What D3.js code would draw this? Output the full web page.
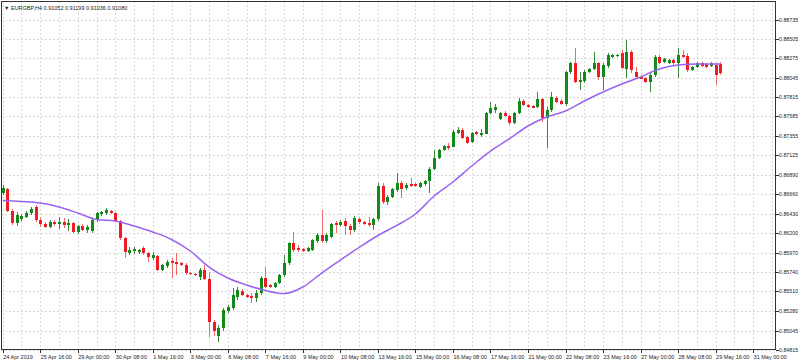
<!DOCTYPE html>
<html>
<head>
<meta charset="utf-8">
<script src="https://cdn.jsdelivr.net/npm/d3@7"></script>
<style>
  body { margin: 0; background: #fff; }
  svg { display: block; }
  text { font-family: "Liberation Sans", Arial, sans-serif; font-size: 5.5px; fill: #222; }
  .price text { font-size: 5.3px; }
</style>
</head>
<body>
<div id="chart"></div>
<script>
// EURGBP H4 candles, first bar 24 Apr 2019 08:00
const barOpen = [
  0.86677,0.86724,0.86464,0.86321,0.86369,0.86392,0.86440,0.86511,0.86357,0.86309,
  0.86274,0.86333,0.86309,0.86333,0.86298,0.86321,0.86215,0.86286,0.86238,0.86226,
  0.86357,0.86428,0.86440,0.86464,0.86440,0.86345,0.86144,0.85965,0.85989,0.85977,
  0.86025,0.85965,0.85906,0.85930,0.85764,0.85811,0.85871,0.85859,0.85847,0.85823,
  0.85728,0.85716,0.85681,0.85764,0.85657,0.85147,0.84981,0.85076,0.85278,0.85313,
  0.85444,0.85515,0.85467,0.85455,0.85432,0.85491,0.85669,0.85586,0.85562,0.85610,
  0.85705,0.85847,0.86084,0.86025,0.86013,0.85989,0.86001,0.86108,0.86179,0.86108,
  0.86155,0.86321,0.86298,0.86345,0.86286,0.86238,0.86369,0.86333,0.86321,0.86298,
  0.86369,0.86760,0.86570,0.86630,0.86713,0.86796,0.86736,0.86784,0.86784,0.86748,
  0.86784,0.86819,0.86962,0.87092,0.87187,0.87235,0.87223,0.87389,0.87424,0.87341,
  0.87282,0.87401,0.87365,0.87377,0.87626,0.87661,0.87555,0.87626,0.87590,0.87507,
  0.87626,0.87768,0.87721,0.87709,0.87697,0.87792,0.87567,0.87661,0.87804,0.87768,
  0.87733,0.88112,0.88219,0.87993,0.88005,0.88112,0.88148,0.88219,0.88053,0.88183,
  0.88290,0.88302,0.88337,0.88148,0.88349,0.88112,0.88053,0.88041,0.87993,0.88077,
  0.88290,0.88231,0.88219,0.88254,0.88219,0.88314,0.88302,0.88136,0.88171,0.88219,
  0.88207,0.88183,0.88195,0.88207
];
const barHigh = [
  0.86772,0.86736,0.86487,0.86452,0.86428,0.86464,0.86511,0.86535,0.86392,0.86333,
  0.86357,0.86357,0.86392,0.86381,0.86369,0.86333,0.86298,0.86309,0.86298,0.86381,
  0.86452,0.86464,0.86499,0.86475,0.86452,0.86357,0.86155,0.86037,0.86037,0.86013,
  0.86049,0.85977,0.85977,0.85942,0.85835,0.85882,0.85906,0.85965,0.85859,0.85847,
  0.85740,0.85728,0.85788,0.85823,0.85740,0.85171,0.85112,0.85313,0.85349,0.85550,
  0.85562,0.85538,0.85479,0.85491,0.85527,0.85693,0.85799,0.85598,0.85621,0.85716,
  0.85942,0.86096,0.86215,0.86060,0.86025,0.86037,0.86132,0.86203,0.86475,0.86203,
  0.86321,0.86345,0.86357,0.86381,0.86309,0.86404,0.86392,0.86345,0.86392,0.86381,
  0.86796,0.86796,0.86653,0.86736,0.86914,0.86819,0.86796,0.86855,0.86796,0.86808,
  0.86831,0.86985,0.87187,0.87199,0.87246,0.87270,0.87424,0.87460,0.87448,0.87353,
  0.87401,0.87412,0.87436,0.87638,0.87756,0.87733,0.87638,0.87650,0.87602,0.87638,
  0.87804,0.87792,0.87733,0.87721,0.87875,0.87804,0.87697,0.87875,0.87827,0.87792,
  0.88124,0.88231,0.88397,0.88112,0.88136,0.88160,0.88349,0.88231,0.88219,0.88337,
  0.88326,0.88326,0.88373,0.88492,0.88373,0.88171,0.88065,0.88053,0.88100,0.88314,
  0.88314,0.88278,0.88266,0.88278,0.88397,0.88373,0.88337,0.88183,0.88231,0.88231,
  0.88219,0.88231,0.88219,0.88231
];
const barLow = [
  0.86653,0.86452,0.86298,0.86286,0.86345,0.86381,0.86416,0.86333,0.86274,0.86262,
  0.86262,0.86286,0.86250,0.86262,0.86226,0.86203,0.86191,0.86226,0.86203,0.86203,
  0.86333,0.86404,0.86416,0.86428,0.86333,0.86120,0.85906,0.85942,0.85954,0.85954,
  0.85942,0.85859,0.85882,0.85752,0.85752,0.85788,0.85669,0.85705,0.85811,0.85705,
  0.85705,0.85693,0.85645,0.85645,0.84969,0.84981,0.84910,0.85040,0.85254,0.85289,
  0.85408,0.85455,0.85432,0.85373,0.85384,0.85467,0.85550,0.85550,0.85550,0.85598,
  0.85681,0.85823,0.85977,0.85977,0.85977,0.85977,0.85989,0.86084,0.86084,0.86084,
  0.86144,0.86203,0.86286,0.86179,0.86179,0.86215,0.86309,0.86298,0.86274,0.86238,
  0.86345,0.86547,0.86535,0.86618,0.86689,0.86618,0.86713,0.86748,0.86748,0.86736,
  0.86760,0.86677,0.86950,0.87080,0.87175,0.87187,0.87223,0.87377,0.87318,0.87258,
  0.87270,0.87365,0.87341,0.87377,0.87614,0.87626,0.87543,0.87578,0.87484,0.87495,
  0.87614,0.87709,0.87685,0.87685,0.87685,0.87519,0.87211,0.87638,0.87744,0.87721,
  0.87709,0.88088,0.87982,0.87899,0.87982,0.88100,0.88136,0.88017,0.87899,0.88160,
  0.88278,0.88290,0.88148,0.88041,0.88100,0.88041,0.88029,0.87982,0.87875,0.88053,
  0.88207,0.88219,0.88207,0.88195,0.88041,0.88278,0.88112,0.88124,0.88160,0.88171,
  0.88160,0.88171,0.87958,0.88077
];
const barClose = [
  0.86736,0.86464,0.86321,0.86416,0.86404,0.86440,0.86487,0.86357,0.86309,0.86274,
  0.86333,0.86309,0.86333,0.86298,0.86321,0.86215,0.86286,0.86238,0.86274,0.86357,
  0.86440,0.86452,0.86475,0.86440,0.86345,0.86144,0.85977,0.86001,0.86013,0.86001,
  0.85965,0.85918,0.85942,0.85764,0.85823,0.85859,0.85847,0.85835,0.85823,0.85728,
  0.85716,0.85705,0.85764,0.85657,0.85147,0.85040,0.85076,0.85289,0.85325,0.85467,
  0.85527,0.85467,0.85444,0.85432,0.85491,0.85669,0.85562,0.85562,0.85610,0.85705,
  0.85847,0.86084,0.86001,0.86001,0.85989,0.86025,0.86120,0.86179,0.86108,0.86179,
  0.86309,0.86298,0.86333,0.86286,0.86238,0.86381,0.86333,0.86309,0.86298,0.86369,
  0.86760,0.86570,0.86630,0.86724,0.86796,0.86724,0.86772,0.86760,0.86760,0.86796,
  0.86819,0.86962,0.87092,0.87187,0.87235,0.87211,0.87401,0.87424,0.87329,0.87270,
  0.87389,0.87377,0.87389,0.87626,0.87685,0.87697,0.87626,0.87590,0.87507,0.87626,
  0.87768,0.87721,0.87697,0.87691,0.87792,0.87567,0.87661,0.87816,0.87756,0.87733,
  0.88112,0.88219,0.87993,0.88017,0.88112,0.88148,0.88219,0.88053,0.88195,0.88314,
  0.88314,0.88314,0.88160,0.88349,0.88136,0.88053,0.88035,0.87993,0.88077,0.88290,
  0.88219,0.88266,0.88254,0.88219,0.88314,0.88290,0.88136,0.88171,0.88219,0.88183,
  0.88171,0.88219,0.88077,0.88100
];

// moving average, read at every 4th bar
const maBar = [0,4,8,12,16,20,24,28,32,36,40,44,48,52,56,60,64,68,72,76,80,84,88,92,96,100,104,108,112,116,120,124,128,132,136,140,144,148,152,153];
const maValue = [
  0.86588,0.86576,0.86558,0.86511,0.86440,0.86363,0.86345,0.86286,0.86215,0.86126,
  0.85989,0.85799,0.85669,0.85586,0.85521,0.85485,0.85562,0.85728,0.85882,0.86031,
  0.86173,0.86292,0.86428,0.86641,0.86808,0.86997,0.87175,0.87318,0.87472,0.87578,
  0.87650,0.87768,0.87875,0.87970,0.88053,0.88148,0.88195,0.88207,0.88207,0.88207
];

const priceTicks = [0.88735,0.88505,0.88275,0.88045,0.87815,0.87585,0.87355,0.87125,0.86890,
  0.86660,0.86430,0.86200,0.85970,0.85740,0.85510,0.85280,0.85045,0.84815];
const timeTicks = ["24 Apr 2019","25 Apr 16:00","29 Apr 00:00","30 Apr 08:00","1 May 16:00",
  "3 May 00:00","6 May 08:00","7 May 16:00","9 May 00:00","10 May 08:00","13 May 16:00",
  "15 May 00:00","16 May 08:00","17 May 16:00","21 May 00:00","22 May 08:00","23 May 16:00",
  "27 May 00:00","28 May 08:00","29 May 16:00","31 May 00:00"];
const title = "\u25BC EURGBP,H4  0.91052 0.91199 0.91036 0.91080";

const W = 798, H = 363;
const plot = { left: 1, top: 1, right: 775.5, bottom: 349.5 };

// H4 bar times (weekends skipped), extended past the last candle for the axis
const barTimes = [];
{
  let t = Date.UTC(2019, 3, 24, 8);
  while (barTimes.length < 166) {
    const d = new Date(t).getUTCDay();
    if (d !== 0 && d !== 6) barTimes.push(new Date(t));
    t += 4 * 3600 * 1000;
  }
}
const fmt = d3.utcFormat("%-d %b %H:%M");

const x = d3.scaleLinear().domain([0, 160]).range([2.7, 753.1]);
const y = d3.scaleLinear().domain([0.84815, 0.88735]).range([350, 19.5]);

const svg = d3.select("#chart").append("svg")
  .attr("width", W).attr("height", H);

svg.append("rect").attr("width", W).attr("height", H).attr("fill", "#fff");

// grid
const grid = svg.append("g")
  .attr("stroke", "#d9d9d9")
  .attr("stroke-dasharray", "2,2")
  .attr("shape-rendering", "crispEdges");

grid.selectAll(".vg")
  .data(d3.range(0, 165, 4).filter(i => x(i) < plot.right - 1))
  .join("line")
  .attr("x1", i => Math.round(x(i)) + 0.5).attr("x2", i => Math.round(x(i)) + 0.5)
  .attr("y1", plot.top).attr("y2", plot.bottom);

grid.selectAll(".hg")
  .data(priceTicks)
  .join("line")
  .attr("x1", plot.left).attr("x2", plot.right)
  .attr("y1", d => Math.round(y(d)) + 0.5).attr("y2", d => Math.round(y(d)) + 0.5);

// candles
const candles = barOpen.map((o, i) => ({
  i, o, h: barHigh[i], l: barLow[i], c: barClose[i]
}));

const cg = svg.append("g").attr("shape-rendering", "crispEdges");

const candle = cg.selectAll(".candle")
  .data(candles)
  .join("g")
  .attr("class", "candle");

candle.append("line")
  .attr("x1", d => Math.round(x(d.i)) + 0.5)
  .attr("x2", d => Math.round(x(d.i)) + 0.5)
  .attr("y1", d => y(d.h))
  .attr("y2", d => y(d.l))
  .attr("stroke", d => d.c >= d.o ? "#3a8a3a" : "#f06a6a");

candle.append("rect")
  .attr("x", d => Math.round(x(d.i)) - 1)
  .attr("width", 3)
  .attr("y", d => y(Math.max(d.o, d.c)))
  .attr("height", d => Math.max(1, Math.abs(y(d.o) - y(d.c))))
  .attr("fill", d => d.c >= d.o ? "#118a1a" : "#ee1c25");

// moving average
const maLine = d3.line()
  .x((d, k) => x(maBar[k]))
  .y(d => y(d))
  .curve(d3.curveMonotoneX);

svg.append("path")
  .attr("d", maLine(maValue))
  .attr("fill", "none")
  .attr("stroke", "#9b63f2")
  .attr("stroke-width", 1.5);

// frame
svg.append("path")
  .attr("d", `M${plot.left + 0.5},${plot.bottom}V${plot.top + 0.5}H${plot.right}V${plot.bottom}H${plot.left}`)
  .attr("fill", "none")
  .attr("stroke", "#333")
  .attr("shape-rendering", "crispEdges");

// price axis
const yAxis = svg.append("g").attr("class", "price");
yAxis.selectAll("line")
  .data(priceTicks)
  .join("line")
  .attr("x1", plot.right).attr("x2", plot.right + 3)
  .attr("y1", d => Math.round(y(d)) + 0.5).attr("y2", d => Math.round(y(d)) + 0.5)
  .attr("stroke", "#333")
  .attr("shape-rendering", "crispEdges");
yAxis.selectAll("text")
  .data(priceTicks)
  .join("text")
  .attr("x", plot.right + 3.5)
  .attr("y", d => y(d) + 2)
  .text(d => d.toFixed(5));

// time axis
const tickIndex = timeTicks.map((t, k) => k === 0 ? 0 : barTimes.findIndex(d => fmt(d) === t));
const xAxis = svg.append("g");
xAxis.selectAll("line")
  .data(tickIndex)
  .join("line")
  .attr("x1", i => Math.round(x(i)) + 0.5).attr("x2", i => Math.round(x(i)) + 0.5)
  .attr("y1", plot.bottom).attr("y2", plot.bottom + 3)
  .attr("stroke", "#333")
  .attr("shape-rendering", "crispEdges");
xAxis.selectAll("text")
  .data(timeTicks)
  .join("text")
  .attr("x", (t, k) => x(tickIndex[k]) + 0.5)
  .attr("y", 359)
  .text(t => t);

// title
svg.append("text")
  .attr("x", 4)
  .attr("y", 10)
  .text(title);
</script>
</body>
</html>
